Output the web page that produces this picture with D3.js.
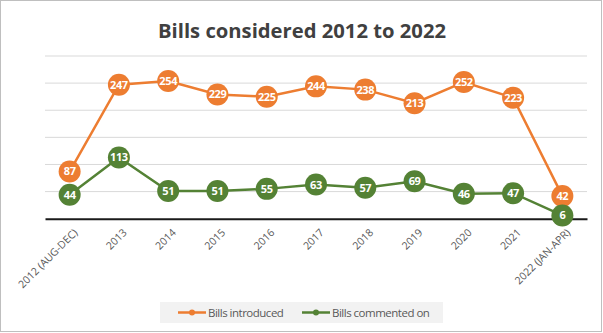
<!DOCTYPE html>
<html>
<head>
<meta charset="utf-8">
<script src="https://cdn.jsdelivr.net/npm/d3@7"></script>
<style>
body { margin: 0; background: #fff; }
svg { display: block; font-family: "Open Sans", "Liberation Sans", sans-serif; }
</style>
</head>
<body>
<script>
var years = ["2012 (AUG-DEC)", "2013", "2014", "2015", "2016", "2017", "2018", "2019", "2020", "2021", "2022 (JAN-APR)"];
var introduced = [87, 247, 254, 229, 225, 244, 238, 213, 252, 223, 42];
var commented = [44, 113, 51, 51, 55, 63, 57, 69, 46, 47, 6];
var yTicks = [0, 50, 100, 150, 200, 250, 300];
var seriesNames = ["Bills introduced", "Bills commented on"];
var colors = ["#ed7d31", "#548235"];

var W = 603, H = 333;
var svg = d3.select("body").append("svg").attr("width", W).attr("height", H);

// outer frame
svg.append("rect").attr("x", 0.5).attr("y", 0.5).attr("width", W - 2).attr("height", H - 2)
  .attr("fill", "#fff").attr("stroke", "#bfbfbf");

var x = d3.scaleBand().domain(years).range([45, 587]);
var y = d3.scaleLinear().domain([0, 300]).range([218.7, 56]);

// title
svg.append("text").attr("x", 302).attr("y", 38).attr("text-anchor", "middle")
  .attr("font-size", 20).attr("font-weight", "bold").attr("fill", "#404040")
  .attr("textLength", 288).attr("lengthAdjust", "spacingAndGlyphs")
  .text("Bills considered 2012 to 2022");

// gridlines
svg.append("g").selectAll("line").data(yTicks.slice(1)).join("line")
  .attr("x1", 45).attr("x2", 587)
  .attr("y1", function(d) { return y(d); }).attr("y2", function(d) { return y(d); })
  .attr("stroke", "#d9d9d9").attr("stroke-width", 1);

// x axis
var xAxis = svg.append("g").attr("transform", "translate(0," + y(0) + ")")
  .call(d3.axisBottom(x).tickSize(0).tickPadding(0));
xAxis.select(".domain").attr("stroke", "#1a1a1a").attr("stroke-width", 2);
xAxis.selectAll("text")
  .attr("font-family", "'Open Sans', 'Liberation Sans', sans-serif")
  .attr("font-size", 10.5).attr("fill", "#595959")
  .attr("text-anchor", "end").attr("dy", "0.35em")
  .attr("transform", "translate(6,12) rotate(-45)");

var series = [introduced, commented];
var line = d3.line()
  .x(function(d, i) { return x(years[i]) + x.bandwidth() / 2; })
  .y(function(d) { return y(d); });

series.forEach(function(vals, s) {
  svg.append("path").datum(vals).attr("d", line)
    .attr("fill", "none").attr("stroke", colors[s]).attr("stroke-width", 2.5);
});

series.forEach(function(vals, s) {
  var g = svg.append("g").selectAll("g").data(vals).join("g")
    .attr("transform", function(d, i) {
      return "translate(" + (x(years[i]) + x.bandwidth() / 2) + "," + y(d) + ")";
    });
  g.append("circle").attr("r", 11).attr("fill", colors[s]);
  g.append("text").attr("text-anchor", "middle").attr("dy", "0.36em")
    .attr("font-size", 11).attr("font-weight", "bold").attr("fill", "#fff")
    .attr("letter-spacing", -0.4)
    .text(function(d) { return d; });
});

// legend
svg.append("rect").attr("x", 160).attr("y", 302).attr("width", 283).attr("height", 21)
  .attr("fill", "#f2f2f2");
var legendX = [178, 302];
seriesNames.forEach(function(name, s) {
  var lg = svg.append("g").attr("transform", "translate(" + legendX[s] + ",312.5)");
  lg.append("line").attr("x1", 0).attr("x2", 28).attr("stroke", colors[s]).attr("stroke-width", 2.5);
  lg.append("circle").attr("cx", 14).attr("r", 3).attr("fill", colors[s]);
  lg.append("text").attr("x", 30).attr("dy", "0.35em").attr("font-size", 11.5)
    .attr("letter-spacing", -0.5)
    .attr("fill", "#595959").text(name);
});
</script>
</body>
</html>
